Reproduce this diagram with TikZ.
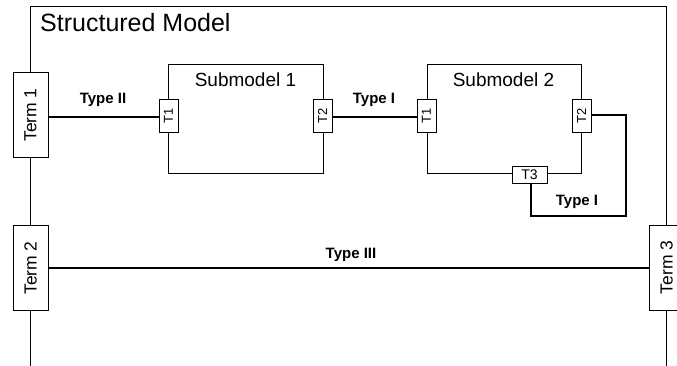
\documentclass[tikz,border=0pt]{standalone}
\usepackage{fontspec}
\setmainfont{Liberation Sans}
\begin{document}
\begin{tikzpicture}[x=1pt,y=-1pt,
  frame/.style={line width=0.9pt},
  termbox/.style={draw,line width=0.9pt,fill=white,minimum width=35pt,minimum height=85pt,inner sep=0pt},
  termtxt/.style={font=\fontsize{17.5}{17.5}\selectfont},
  submodel/.style={draw,line width=0.9pt},
  vport/.style={draw,line width=0.9pt,fill=white,minimum width=19pt,minimum height=33pt,inner sep=0pt},
  hport/.style={draw,line width=0.9pt,fill=white,minimum width=35pt,minimum height=17pt,inner sep=0pt},
  porttxt/.style={font=\fontsize{13}{13}\selectfont},
  subtitle/.style={font=\fontsize{19}{19}\selectfont},
  typelbl/.style={font=\bfseries\fontsize{15}{15}\selectfont},
  thickconn/.style={line width=2.2pt},
  thinconn/.style={line width=1.1pt},
  midconn/.style={line width=1.5pt}]
\useasboundingbox (0,0) rectangle (677,366);

% terminals
\node[termbox] (term1) at (30.5,115) {};
\node[termtxt,rotate=90] (term1t) at (term1) {Term 1};
\node[termbox] (term2) at (30.5,268) {};
\node[termtxt,rotate=90] (term2t) at (term2) {Term 2};
\node[termbox] (term3) at (666.5,267.5) {};
\node[termtxt,rotate=90] (term3t) at (term3) {Term 3};

% frame
\coordinate (ftl) at (30,6);
\coordinate (ftr) at (666,6);
\coordinate (fbl) at (30,366);
\coordinate (fbr) at (666,366);
\draw[frame] (term1.north -| ftl) -- (ftl) -- (ftr) -- (term3.north -| ftr);
\draw[frame] (term1.south -| ftl) -- (term2.north -| ftl);
\draw[frame] (term2.south -| ftl) -- (fbl);
\draw[frame] (term3.south -| ftr) -- (fbr);
\node[anchor=base west,font=\fontsize{25}{25}\selectfont,inner sep=0pt] (title) at (40,32) {Structured Model};

% submodel 1
\node[submodel,minimum width=155pt,minimum height=109pt,anchor=north west] (sm1) at (168,64) {};
\node[subtitle,anchor=base,inner sep=0pt] (sm1t) at (245.5,87) {Submodel 1};
\node[vport] (s1t1) at (168.5,115.5) {};
\node[porttxt,rotate=90] (s1t1t) at (s1t1) {T1};
\node[vport] (s1t2) at (322.5,115.5) {};
\node[porttxt,rotate=90] (s1t2t) at (s1t2) {T2};

% submodel 2
\node[submodel,minimum width=154pt,minimum height=109pt,anchor=north west] (sm2) at (427,64) {};
\node[subtitle,anchor=base,inner sep=0pt] (sm2t) at (503.5,87) {Submodel 2};
\node[vport] (s2t1) at (426.5,115.5) {};
\node[porttxt,rotate=90] (s2t1t) at (s2t1) {T1};
\node[vport] (s2t2) at (581.5,115.5) {};
\node[porttxt,rotate=90] (s2t2t) at (s2t2) {T2};
\node[hport] (s2t3) at (529.5,174.5) {};
\node[porttxt,font=\fontsize{14}{14}\selectfont] (s2t3t) at (s2t3) {T3};

% connectors
\draw[thickconn] (term1.east |- 0,117) -- (s1t1.west |- 0,117);
\node[typelbl] (l1) at (103,100) {Type II};
\draw[thinconn] (s1t2.east |- 0,117) -- (s2t1.west |- 0,117);
\node[typelbl] (l2) at (374,100) {Type I};
\coordinate (c1) at (626,115);
\coordinate (c2) at (626,216);
\coordinate (c3) at (531,216);
\draw[thickconn] (s2t2.east |- c1) -- (c1) -- (c2) -- (c3) -- (s2t3.south -| c3);
\node[typelbl] (l3) at (577,202) {Type I};
\draw[midconn] (term2.east |- 0,268) -- (term3.west |- 0,268);
\node[typelbl] (l4) at (351,255) {Type III};
\end{tikzpicture}
\end{document}
